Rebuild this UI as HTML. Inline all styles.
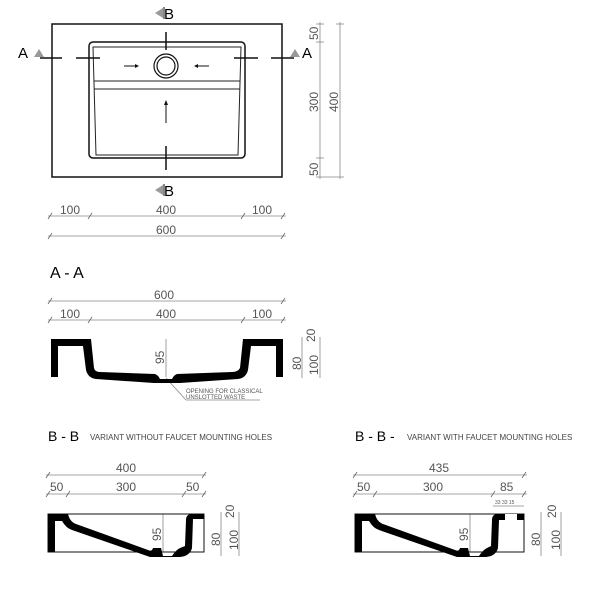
<!DOCTYPE html>
<html><head><style>html,body{margin:0;padding:0;background:#fff}svg{display:block}</style></head><body>
<svg width="603" height="600" viewBox="0 0 603 600" xmlns="http://www.w3.org/2000/svg" font-family="Liberation Sans, sans-serif">
<defs>
<g id="tk"><line x1="-2" y1="3" x2="2" y2="-3" stroke="#666" stroke-width="0.8"/></g>
</defs>
<!-- TOP VIEW -->
<rect x="52" y="24" width="230" height="153" fill="none" stroke="#111" stroke-width="1.5"/>
<rect x="89" y="42" width="156" height="116" rx="4" fill="none" stroke="#111" stroke-width="1.5"/>
<path d="M93 47 L241 47 L238 155 L96 155 Z" fill="none" stroke="#222" stroke-width="1"/>
<line x1="94" y1="81" x2="240" y2="81" stroke="#222" stroke-width="1"/>
<line x1="94" y1="89" x2="240" y2="89" stroke="#222" stroke-width="1"/>
<circle cx="166" cy="66" r="12" fill="#fff" stroke="#111" stroke-width="1.2"/>
<circle cx="166" cy="66" r="9" fill="none" stroke="#111" stroke-width="1.2"/>
<g stroke="#111" stroke-width="1.5">
<line x1="166" y1="32" x2="166" y2="50"/><line x1="166" y1="146" x2="166" y2="170"/>
<line x1="40" y1="58" x2="62" y2="58"/><line x1="76" y1="58" x2="100" y2="58"/>
<line x1="234" y1="58" x2="258" y2="58"/><line x1="271" y1="58" x2="294" y2="58"/>
</g>
<g stroke="#111" stroke-width="1"><line x1="124" y1="66" x2="137" y2="66"/><line x1="196" y1="66" x2="209" y2="66"/><line x1="166" y1="123" x2="166" y2="102"/></g>
<path d="M139 66 l-4 -2 v4z M194 66 l4 -2 v4z M166 100 l-2 5 h4z" fill="#111"/>
<text x="18" y="58" font-size="15">A</text><path d="M34 57 l5 -8 l5 8z" fill="#999"/>
<path d="M290 57 l5 -8 l5 8z" fill="#999"/><text x="302" y="58" font-size="15">A</text>
<path d="M155 13 l8 -5 v10z" fill="#999"/><text x="164" y="19" font-size="15">B</text><line x1="164" y1="7" x2="164" y2="19" stroke="#111"/>
<path d="M155 190 l8 -5 v10z" fill="#999"/><text x="164" y="196" font-size="15">B</text><line x1="164" y1="184" x2="164" y2="196" stroke="#111"/>
<g stroke="#888" stroke-width="0.8" fill="none">
<line x1="320" y1="22" x2="320" y2="179"/><line x1="340" y1="22" x2="340" y2="179"/>
<line x1="316" y1="24" x2="324" y2="24"/><line x1="316" y1="42" x2="324" y2="42"/><line x1="316" y1="158" x2="324" y2="158"/><line x1="316" y1="177" x2="344" y2="177"/><line x1="336" y1="24" x2="344" y2="24"/>
<line x1="48" y1="216" x2="286" y2="216"/><line x1="48" y1="236" x2="286" y2="236"/>
</g>
<g fill="#555" font-size="12">
<text transform="translate(318,40) rotate(-90)">50</text>
<text transform="translate(318,112) rotate(-90)">300</text>
<text transform="translate(318,176) rotate(-90)">50</text>
<text transform="translate(338,112) rotate(-90)">400</text>
<text x="60" y="214">100</text><text x="156" y="214">400</text><text x="252" y="214">100</text>
<text x="156" y="234">600</text>
</g>
<g><use href="#tk" x="50" y="216"/><use href="#tk" x="90" y="216"/><use href="#tk" x="243" y="216"/><use href="#tk" x="283" y="216"/><use href="#tk" x="50" y="236"/><use href="#tk" x="283" y="236"/></g>

<!-- A-A -->
<text x="50" y="278" font-size="16">A - A</text>
<g stroke="#888" stroke-width="0.8"><line x1="48" y1="301" x2="286" y2="301"/><line x1="48" y1="320" x2="286" y2="320"/>
<line x1="166" y1="339" x2="166" y2="377"/><line x1="302" y1="337" x2="302" y2="378"/><line x1="320" y1="337" x2="320" y2="378"/>
<line x1="166" y1="378" x2="186" y2="400"/><line x1="186" y1="400" x2="260" y2="400"/></g>
<g><use href="#tk" x="50" y="301"/><use href="#tk" x="283" y="301"/><use href="#tk" x="50" y="320"/><use href="#tk" x="90" y="320"/><use href="#tk" x="243" y="320"/><use href="#tk" x="283" y="320"/></g>
<g fill="#555" font-size="12"><text x="154" y="299">600</text><text x="60" y="318">100</text><text x="156" y="318">400</text><text x="252" y="318">100</text>
<text transform="translate(164,364) rotate(-90)">95</text><text transform="translate(301,370) rotate(-90)">80</text><text transform="translate(315,342) rotate(-90)">20</text><text transform="translate(318,375) rotate(-90)">100</text>
<text x="186" y="393" font-size="6">OPENING FOR CLASSICAL</text><text x="186" y="399" font-size="6">UNSLOTTED WASTE</text></g>
<path d="M51 339 H91 L94 368 Q95 372 100 372 L155 374 Q158 375 160 379 H172 Q174 375 177 374 L232 372 Q238 372 240 368 L243 339 H283 V377 H276 V346 H251 L248 370 Q246 378 238 379 L180 383 H154 L96 379 Q88 378 86 370 L83 346 H58 V377 H51 Z" fill="#000"/>

<!-- B-B left -->
<text x="48" y="441" font-size="14">B - B</text><text x="90" y="440" font-size="8" fill="#444">VARIANT WITHOUT FAUCET MOUNTING HOLES</text>
<g stroke="#888" stroke-width="0.8"><line x1="46" y1="475" x2="206" y2="475"/><line x1="46" y1="494" x2="206" y2="494"/>
<line x1="163" y1="514" x2="163" y2="552"/><line x1="221" y1="512" x2="221" y2="556"/><line x1="239" y1="512" x2="239" y2="556"/></g>
<g><use href="#tk" x="48" y="475"/><use href="#tk" x="204" y="475"/><use href="#tk" x="48" y="494"/><use href="#tk" x="68" y="494"/><use href="#tk" x="184" y="494"/><use href="#tk" x="204" y="494"/></g>
<g fill="#555" font-size="12"><text x="116" y="472">400</text><text x="50" y="491">50</text><text x="116" y="491">300</text><text x="186" y="491">50</text>
<text transform="translate(161,541) rotate(-90)">95</text><text transform="translate(220,546) rotate(-90)">80</text><text transform="translate(234,518) rotate(-90)">20</text><text transform="translate(238,550) rotate(-90)">100</text></g>
<rect x="48" y="514" width="156" height="38" fill="none" stroke="#111" stroke-width="1"/>
<path d="M48 514 H68 Q70 522 76 524 L148 550 Q152 552 153 548 L161 548 L163 556 L172 556 Q176 550 180 548 L185 546 L186 520 Q186 514 192 514 H204 V519 H193 L192 548 Q190 556 180 557 H150 L72 530 Q66 528 62 521 L55 521 V552 H48 Z" fill="#000"/>

<!-- B-B right -->
<text x="355" y="441" font-size="14">B - B -</text><text x="407" y="440" font-size="8" fill="#444">VARIANT WITH FAUCET MOUNTING HOLES</text>
<g stroke="#888" stroke-width="0.8"><line x1="353" y1="475" x2="527" y2="475"/><line x1="353" y1="494" x2="527" y2="494"/><line x1="493" y1="506" x2="524" y2="506"/>
<line x1="470" y1="514" x2="470" y2="552"/><line x1="541" y1="512" x2="541" y2="556"/><line x1="561" y1="512" x2="561" y2="556"/></g>
<g><use href="#tk" x="355" y="475"/><use href="#tk" x="524" y="475"/><use href="#tk" x="355" y="494"/><use href="#tk" x="375" y="494"/><use href="#tk" x="493" y="494"/><use href="#tk" x="524" y="494"/></g>
<g fill="#555" font-size="12"><text x="429" y="472">435</text><text x="357" y="491">50</text><text x="423" y="491">300</text><text x="500" y="491">85</text>
<text x="495" y="504" font-size="5">33  33  15</text>
<text transform="translate(468,541) rotate(-90)">95</text><text transform="translate(540,546) rotate(-90)">80</text><text transform="translate(556,518) rotate(-90)">20</text><text transform="translate(560,550) rotate(-90)">100</text></g>
<rect x="355" y="514" width="169" height="38" fill="none" stroke="#111" stroke-width="1"/>
<path d="M355 514 H375 Q377 522 383 524 L455 550 Q459 552 460 548 L468 548 L470 556 L479 556 Q483 550 487 548 L491 546 L492 520 Q492 514 498 514 H524 V520 H499 L498 548 Q496 556 486 557 H457 L379 530 Q373 528 369 521 L362 521 V552 H355 Z" fill="#000"/>
<rect x="505" y="514" width="12" height="6" fill="#fff"/>
</svg>
</body></html>
